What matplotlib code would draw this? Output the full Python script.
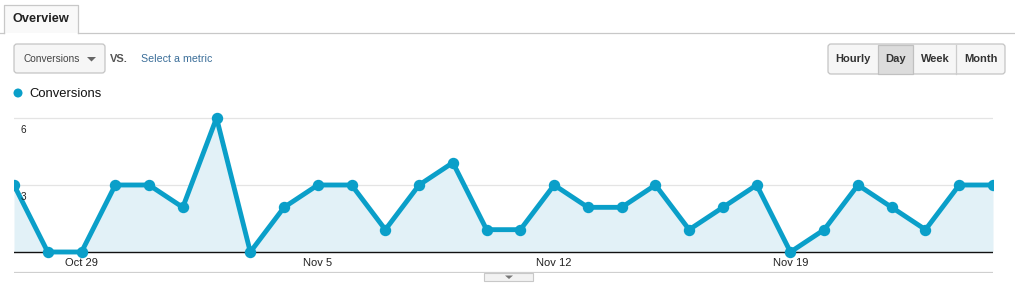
import matplotlib
matplotlib.use("Agg")
import matplotlib.pyplot as plt
from matplotlib.patches import Rectangle, FancyBboxPatch, Polygon, Circle
from matplotlib.transforms import offset_copy
import pandas as pd

plt.rcParams['font.family'] = ['Liberation Sans', 'DejaVu Sans']

# ---- data ----
dates = pd.date_range('2012-10-27', periods=30, freq='D')
conversions = [3, 0, 0, 3, 3, 2, 6, 0, 2, 3, 3, 1, 3, 4, 1, 1, 3, 2, 2, 3,
               1, 2, 3, 0, 1, 3, 2, 1, 3, 3]
tick_labels = ["Oct 29", "Nov 5", "Nov 12", "Nov 19"]
y_ticks = [3, 6]
series_name = "Conversions"
buttons = ["Hourly", "Day", "Week", "Month"]

LINE = '#0a9fc9'
FILL = '#e2f1f7'

W, H = 1015, 288
fig = plt.figure(figsize=(W / 100, H / 100), dpi=100)
fig.patch.set_facecolor('white')

# overlay axes in pixel coordinates for the UI chrome
ov = fig.add_axes([0, 0, 1, 1], zorder=0)
ov.set_xlim(0, W)
ov.set_ylim(H, 0)
ov.axis('off')

# tab
ov.plot([0, 4], [33, 33], color='#c8c8c8', lw=0.9)
ov.plot([78, W], [33, 33], color='#c8c8c8', lw=0.9)
ov.add_patch(Rectangle((4, 5), 74, 28, facecolor='#f9f9f9', edgecolor='none'))
ov.plot([4, 4, 78, 78], [33, 5, 5, 33], color='#c8c8c8', lw=0.9)
ov.text(13, 19.5, "Overview", fontsize=9.2, fontweight='bold', color='#222222',
        ha='left', va='center')

# metric dropdown
ov.add_patch(FancyBboxPatch((14, 44), 91, 29, boxstyle="round,pad=0,rounding_size=3",
                            facecolor='#f6f6f6', edgecolor='#c4c4c4', lw=0.9))
ov.text(24, 59.5, "Conversions", fontsize=7.3, color='#444444', ha='left', va='center')
ov.add_patch(Polygon([[87, 57], [96, 57], [91.5, 61.5]], closed=True,
                     facecolor='#666666', edgecolor='none'))
ov.text(110, 58.5, "VS.", fontsize=8, fontweight='bold', color='#555555',
        ha='left', va='center')
ov.text(141, 59.5, "Select a metric", fontsize=7.7, color='#3b6e99',
        ha='left', va='center')

# hourly / day / week / month buttons
ov.add_patch(FancyBboxPatch((828, 44), 177, 30, boxstyle="round,pad=0,rounding_size=3",
                            facecolor='#f6f6f6', edgecolor='#c4c4c4', lw=0.9))
ov.add_patch(Rectangle((878, 44.5), 35, 29, facecolor='#dcdcdc', edgecolor='#c0c0c0', lw=0.9))
for xd in [956]:
    ov.plot([xd, xd], [44.5, 73.5], color='#cccccc', lw=0.9)
for label, xc in zip(buttons, [853, 896, 935, 981]):
    ov.text(xc, 59.5, label, fontsize=8, fontweight='bold', color='#333333',
            ha='center', va='center')

# legend
ov.add_patch(Circle((18, 93), 4.5, facecolor=LINE, edgecolor='none'))
ov.text(29, 94, series_name, fontsize=9.4, color='#111111', ha='left', va='center')

# bottom handle
ov.add_patch(Rectangle((484, 273), 49, 8, facecolor='#f2f2f2', edgecolor='#c8c8c8', lw=0.8))
ov.add_patch(Polygon([[505, 275.5], [513, 275.5], [509, 279]], closed=True,
                     facecolor='#777777', edgecolor='none'))

# ---- chart axes ----
left_px, right_px = 14, 993
top_px, bot_px = 100, 273
y0_px, y6_px = 252, 118
ppu = (y0_px - y6_px) / 6.0
ylo = 0 - (bot_px - y0_px) / ppu
yhi = 6 + (y6_px - top_px) / ppu

ax = fig.add_axes([left_px / W, (H - bot_px) / H, (right_px - left_px) / W,
                   (bot_px - top_px) / H], zorder=1)
ax.patch.set_alpha(0)
x = list(range(len(dates)))
ax.set_xlim(0, len(dates) - 1)
ax.set_ylim(ylo, yhi)
for s in ax.spines.values():
    s.set_visible(False)
ax.set_xticks([])
ax.set_yticks([])

for yt in y_ticks:
    ax.axhline(yt, color='#e4e4e4', lw=0.9, zorder=1)
ax.axhline(0, color='#111111', lw=1.0, zorder=3)
ax.axhline(ylo, color='#cfcfcf', lw=1.6, zorder=1)

ax.fill_between(x, conversions, 0, color=FILL, lw=0, zorder=2)
ax.plot(x, conversions, color=LINE, lw=3.5, marker='o', markersize=7.2,
        solid_joinstyle='round', solid_capstyle='round', zorder=4)

# y labels drawn inside the plot just below the grid lines
tr = offset_copy(ax.transData, fig=fig, x=5, y=-5, units='points')
for yt in y_ticks:
    ax.text(0, yt, str(yt), transform=tr, fontsize=7.2, color='#222222',
            ha='left', va='top', zorder=5)

# x labels
fmt = [f"{d.strftime('%b')} {d.day}" for d in dates]
for lab in tick_labels:
    i = fmt.index(lab)
    ax.text(i, -0.5, lab, fontsize=8, color='#222222', ha='center', va='center')

fig.savefig('out.png', dpi=100, facecolor='white')
